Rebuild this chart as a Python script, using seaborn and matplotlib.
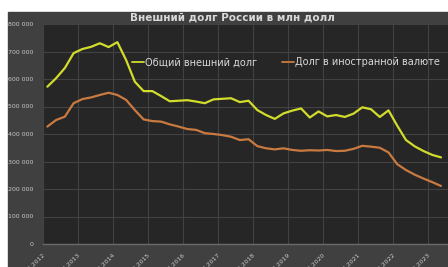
import pandas as pd
import matplotlib
matplotlib.use('Agg')
import matplotlib.pyplot as plt
import matplotlib.ticker as mticker
import matplotlib.transforms as mtransforms
import seaborn as sns

# quarterly data, 01.07.2012 .. 01.10.2023 (mln USD)
total_debt = [572000, 603000, 640000, 694000, 709000, 717000, 730000, 716000,
              734000, 669000, 590000, 556000, 556000, 538000, 519000, 521000,
              523000, 518000, 512000, 526000, 528000, 530000, 516000, 521000,
              487000, 469000, 455000, 475000, 485000, 493000, 460000, 482000,
              464000, 469000, 462000, 474000, 497000, 490000, 462000, 486000,
              430000, 378000, 355000, 338000, 324000, 315000]
fx_debt = [427000, 451000, 463000, 512000, 527000, 533000, 542000, 550000,
           542000, 524000, 487000, 453000, 447000, 445000, 435000, 427000,
           418000, 415000, 403000, 400000, 396000, 390000, 378000, 381000,
           356000, 348000, 344000, 348000, 342000, 339000, 341000, 340000,
           342000, 338000, 339000, 346000, 357000, 354000, 350000, 333000,
           290000, 269000, 252000, 238000, 225000, 211000]
year_labels = ['01.07.2012', '01.07.2013', '01.07.2014', '01.07.2015',
               '01.07.2016', '01.07.2017', '01.07.2018', '01.07.2019',
               '01.07.2020', '01.07.2021', '01.07.2022', '01.07.2023']
series_names = ['Общий внешний долг', 'Долг в иностранной валюте']
series_colors = ['#d2dc2c', '#c97a40']

df = pd.DataFrame({
    'q': list(range(len(total_debt))) * 2,
    'value': total_debt + fx_debt,
    'series': [series_names[0]] * len(total_debt) + [series_names[1]] * len(fx_debt),
})

sns.set_style('dark')
plt.rcParams['font.family'] = ['DejaVu Sans']

fig = plt.figure(figsize=(4.48, 2.67), dpi=100)
fig.patch.set_facecolor('white')
# outer chart area
fig.patches.append(plt.Rectangle((8 / 448, 0), 1 - 8 / 448, 1 - 12 / 267,
                                 transform=fig.transFigure, color='#404040', zorder=-5))

ax = fig.add_axes([43 / 448, 1 - 244 / 267, 405 / 448, 220 / 267])
ax.set_zorder(2)
ax.set_facecolor('#262626')

sns.lineplot(data=df, x='q', y='value', hue='series', palette=series_colors,
             linewidth=1.6, ax=ax, legend=True)

ax.set_xlim(-0.5, len(total_debt) - 0.5 + 0.3)
ax.set_ylim(0, 800000)
ax.yaxis.set_major_locator(mticker.MultipleLocator(100000))
ax.yaxis.set_major_formatter(mticker.FuncFormatter(lambda v, p: f'{int(v):,}'.replace(',', ' ')))
ax.set_xticks([i * 4 - 0.5 for i in range(len(year_labels))])
ax.set_xticklabels(year_labels, rotation=45, ha='right', rotation_mode='anchor')
shift = mtransforms.ScaledTranslation(5 / 100, -1 / 100, fig.dpi_scale_trans)
for lbl in ax.get_xticklabels():
    lbl.set_transform(lbl.get_transform() + shift)

ax.grid(True, color='#424242', linewidth=0.8)
ax.tick_params(axis='y', labelsize=4.5, colors='#c8c8c8', length=0, pad=7)
ax.tick_params(axis='x', labelsize=4.5, colors='#c8c8c8', length=0, pad=6)
for side in ['top', 'right', 'left']:
    ax.spines[side].set_visible(False)
ax.spines['bottom'].set_color('#6a6a6a')
ax.spines['bottom'].set_linewidth(1.0)
ax.set_xlabel('')
ax.set_ylabel('')

leg = ax.legend(loc='center', bbox_to_anchor=(0.60, 0.827), ncol=2, frameon=False,
                fontsize=7, handlelength=1.3, handletextpad=0.1, columnspacing=2.5)
for t in leg.get_texts():
    t.set_color('#d9d9d9')
for ln in leg.get_lines():
    ln.set_linewidth(1.3)

fig.text(232 / 448, 1 - 18 / 267, 'Внешний долг России в млн долл', ha='center', va='center',
         fontsize=7.5, fontweight='bold', color='#d9d9d9')

fig.savefig('out.png', dpi=100, facecolor=fig.get_facecolor())
